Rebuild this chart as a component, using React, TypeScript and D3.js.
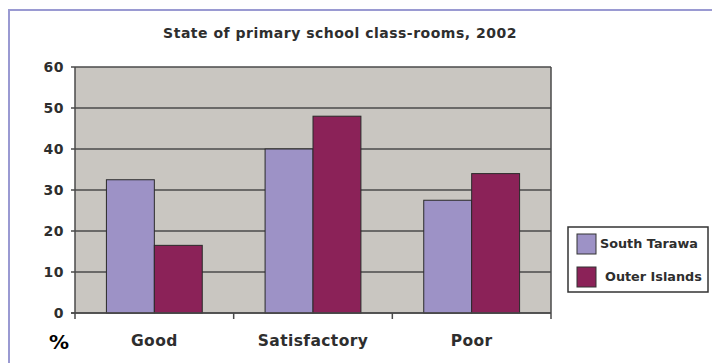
import React from "react";
import * as d3 from "d3";

const categories = ["Good", "Satisfactory", "Poor"];
const seriesNames = ["South Tarawa", "Outer Islands"];
const southTarawa = [32.5, 40, 27.5];
const outerIslands = [16.5, 48, 34];
const yTicks = [0, 10, 20, 30, 40, 50, 60];
const title = "State of primary school class-rooms, 2002";

const colors = ["#9d92c6", "#8b2258"];
const W = 712, H = 363;
const plot = { left: 75, right: 551, top: 67, bottom: 313 };

export default function App() {
  const y = d3.scaleLinear().domain([0, 60]).range([plot.bottom, plot.top]);
  const x0 = d3.scaleBand<string>().domain(categories).range([plot.left, plot.right])
    .paddingInner(0.396).paddingOuter(0.198);
  const x1 = d3.scaleBand<string>().domain(seriesNames).range([0, x0.bandwidth()]);
  const step = x0.step();
  const values = [southTarawa, outerIslands];
  const font = "'DejaVu Sans', sans-serif";
  const txt = "#2e2e2e";

  return (
    <svg width={W} height={H} style={{ position: "absolute", left: 0, top: 0, background: "#fff" }}>
      <rect x={9} y={10} width={W + 20} height={H + 20} fill="#fff" stroke="#9a9ad2" strokeWidth={2} />
      <text x={340} y={38} textAnchor="middle" fontFamily={font} fontSize={14} letterSpacing={0.5} fontWeight={600} fill={txt}>{title}</text>
      <rect x={plot.left} y={plot.top} width={plot.right - plot.left} height={plot.bottom - plot.top} fill="#c9c6c1" />
      {yTicks.map((t) => (
        <g key={t}>
          <line x1={plot.left - 4} x2={plot.right} y1={y(t)} y2={y(t)} stroke="#4a4a4a" strokeWidth={1.5} />
          <text x={64} y={y(t)} dy="0.35em" textAnchor="end" fontFamily={font} fontSize={14} letterSpacing={0.5} fontWeight="bold" fill={txt}>{t}</text>
        </g>
      ))}
      {categories.map((c, i) => (
        <g key={c}>
          {seriesNames.map((s, j) => (
            <rect key={s} x={(x0(c) as number) + (x1(s) as number)} y={y(values[j][i])}
              width={x1.bandwidth()} height={plot.bottom - y(values[j][i])}
              fill={colors[j]} stroke="#2a2a2a" strokeWidth={1} />
          ))}
          <text x={(x0(c) as number) + x0.bandwidth() / 2} y={346} textAnchor="middle" fontFamily={font} fontSize={15.5} letterSpacing={0.4} fontWeight="bold" fill={txt}>{c}</text>
        </g>
      ))}
      {d3.range(categories.length + 1).map((k) => (
        <line key={k} x1={plot.left + k * step} x2={plot.left + k * step} y1={plot.bottom} y2={plot.bottom + 6} stroke="#4a4a4a" strokeWidth={1.5} />
      ))}
      <line x1={plot.left} x2={plot.left} y1={plot.top} y2={plot.bottom} stroke="#4a4a4a" strokeWidth={1.5} />
      <line x1={plot.right} x2={plot.right} y1={plot.top} y2={plot.bottom} stroke="#4a4a4a" strokeWidth={1.5} />
      <line x1={plot.left - 4} x2={plot.right} y1={plot.bottom} y2={plot.bottom} stroke="#4a4a4a" strokeWidth={1.5} />
      <text x={59} y={349} textAnchor="middle" fontFamily={font} fontSize={20} fontWeight="bold" fill="#000">%</text>
      <g>
        <rect x={568} y={227} width={140} height={65} fill="#fff" stroke="#333" strokeWidth={1.5} />
        {seriesNames.map((s, j) => (
          <g key={s}>
            <rect x={577} y={234 + j * 33} width={19} height={20} fill={colors[j]} stroke="#333" strokeWidth={1} />
            <text x={j === 0 ? 600 : 605} y={244 + j * 33} dy="0.35em" fontFamily={font} fontSize={12.8} fontWeight="bold" fill={txt}>{s}</text>
          </g>
        ))}
      </g>
    </svg>
  );
}
